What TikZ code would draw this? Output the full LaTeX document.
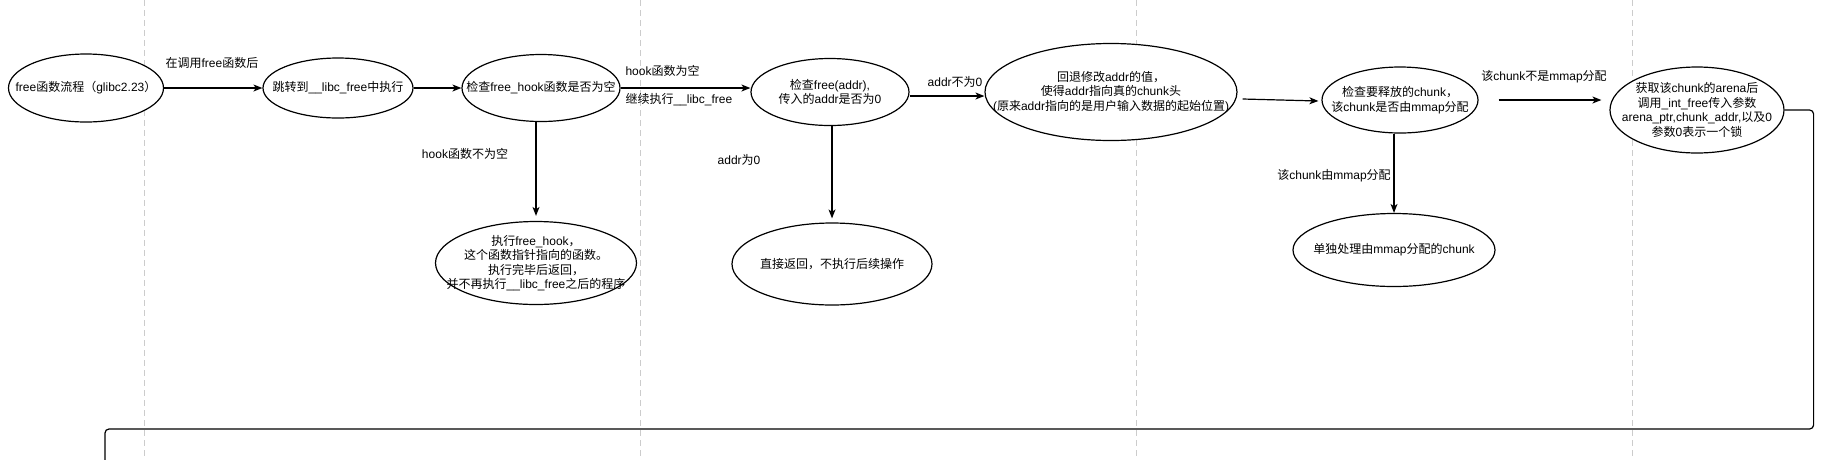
\documentclass[tikz,border=0pt]{standalone}
\usepackage{fontspec}
\setmainfont{Liberation Sans}
\newfontfamily\cjk{Noto Sans CJK SC}
% switch to the CJK family for CJK characters
\XeTeXinterchartokenstate=1
\newXeTeXintercharclass\cjkclass
\count255="3000
\loop\XeTeXcharclass\count255=\cjkclass\advance\count255 by 1 \ifnum\count255<"A000 \repeat
\count255="FF00
\loop\XeTeXcharclass\count255=\cjkclass\advance\count255 by 1 \ifnum\count255<"FFF0 \repeat
\XeTeXinterchartoks 0 \cjkclass = {\cjk}
\XeTeXinterchartoks 4095 \cjkclass = {\cjk}
\XeTeXinterchartoks \cjkclass 0 = {\rmfamily}
\XeTeXinterchartoks \cjkclass 4095 = {\rmfamily}
\usetikzlibrary{shapes.geometric,arrows.meta}
\begin{document}
\begin{tikzpicture}[x=1pt,y=-1pt,
  font=\fontsize{12}{14.5}\selectfont,
  stage/.style={ellipse, draw, line width=1.2pt, fill=white, inner sep=0pt},
  arrowline/.style={line width=1.2pt, -{Stealth[length=9pt,width=7pt,inset=2.5pt]}},
  lane/.style={gray!40, line width=1pt, dash pattern=on 6pt off 4pt}]
\useasboundingbox (0,0) rectangle (1821,459);
% lane separators
\foreach \x in {144,640,1136,1632}
  \draw[lane] (\x,0) -- (\x,459);
% upper row
\node[stage, minimum width=155, minimum height=68,
  label={center:free函数流程（glibc2.23）}] (start) at (86,88) {};
\node[stage, minimum width=150, minimum height=60,
  label={center:跳转到\_\_libc\_free中执行}] (jump) at (338,88) {};
\node[stage, minimum width=158, minimum height=67,
  label={center:检查free\_hook函数是否为空}] (hookcheck) at (541,88) {};
\node[stage, minimum width=158, minimum height=67,
  label={[align=center]center:{检查free(addr),\\传入的addr是否为0}}] (addrcheck) at (830,92) {};
\node[stage, minimum width=252, minimum height=97,
  label={[align=center]center:{回退修改addr的值，\\使得addr指向真的chunk头\\(原来addr指向的是用户输入数据的起始位置)}}] (rollback) at (1111,92) {};
\node[stage, minimum width=156, minimum height=66,
  label={[align=center]center:{检查要释放的chunk，\\该chunk是否由mmap分配}}] (mmapcheck) at (1400,100) {};
\node[stage, minimum width=174, minimum height=86,
  label={[align=center]center:{获取该chunk的arena后\\调用\_int\_free传入参数\\arena\_ptr,chunk\_addr,以及0\\参数0表示一个锁}}] (arena) at (1697,110) {};
% lower row
\node[stage, minimum width=201, minimum height=83,
  label={[align=center]center:{执行free\_hook，\\这个函数指针指向的函数。\\执行完毕后返回，\\并不再执行\_\_libc\_free之后的程序}}] (hookrun) at (536,263) {};
\node[stage, minimum width=200, minimum height=82,
  label={center:直接返回，不执行后续操作}] (ret) at (832,264) {};
\node[stage, minimum width=202, minimum height=73,
  label={center:单独处理由mmap分配的chunk}] (mmaprun) at (1394,250) {};
% connectors
\draw[arrowline] (start) -- (jump);
\draw[arrowline] (jump) -- (hookcheck);
\draw[arrowline] (hookcheck.east) -- (hookcheck.east -| addrcheck.west);
\draw[arrowline] ([yshift=-4pt]addrcheck.east) -- ([yshift=-4pt]addrcheck.east -| rollback.west);
\draw[arrowline] ([shift={(5,7)}]rollback.east) -- ([shift={(-3,1)}]mmapcheck.west);
\draw[arrowline, shorten <=20pt, shorten >=8pt] (mmapcheck.east) -- (mmapcheck.east -| arena.west);
\draw[arrowline, shorten >=5pt] (hookrun.north |- hookcheck.south) -- (hookrun.north);
\draw[arrowline, shorten >=4pt] (ret.north |- addrcheck.south) -- (ret.north);
\draw[arrowline] (mmaprun.north |- mmapcheck.south) -- (mmaprun.north);
% loop back to next row
\coordinate (turn) at (105,429);
\coordinate (next) at (105,462);
\draw[line width=1.2pt, rounded corners=4pt] (arena.east) -- ++(29,0) |- (turn) -- (next);
% connector labels
\node (calllbl) at (212,63) {在调用free函数后};
\node[anchor=west] (emptylbl) at (622,71) {hook函数为空};
\node[anchor=west] (contlbl) at (622,100) {继续执行\_\_libc\_free};
\node (notemptylbl) at (465,154) {hook函数不为空};
\node (zerolbl) at (739,160) {addr为0};
\node (nonzerolbl) at (955,82) {addr不为0};
\node (notmmaplbl) at (1544,77) {该chunk不是mmap分配};
\node (mmaplbl) at (1334,176) {该chunk由mmap分配};
\end{tikzpicture}
\end{document}
